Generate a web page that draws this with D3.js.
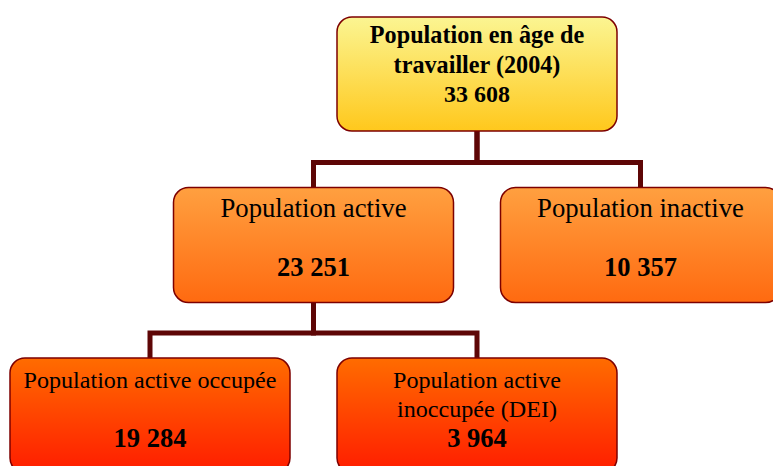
<!DOCTYPE html>
<html><head><meta charset="utf-8">
<script src="https://cdn.jsdelivr.net/npm/d3@7"></script>
<style>html,body{margin:0;padding:0;background:#fff;overflow:hidden}</style>
</head><body><svg id="c" width="773" height="466"></svg>
<script>
(function() {
// Data
const ids     = ["total", "active", "inactive", "occupee", "dei"];
const parents = [null, "total", "total", "active", "active"];
const labels  = [["Population en âge de", "travailler (2004)"], ["Population active"], ["Population inactive"], ["Population active occupée"], ["Population active", "inoccupée (DEI)"]];
const values  = [33608, 23251, 10357, 19284, 3964];

const rows = ids.map((id, i) => ({id, parent: parents[i], lines: labels[i], value: values[i]}));
const root = d3.stratify().id(d => d.id).parentId(d => d.parent)(rows);

const boxW = 280, boxH = 115, levelGap = 170.5;
d3.tree().nodeSize([327, levelGap]).separation(() => 1)(root);

const x0 = 477 - root.x, y0 = 17;
const fmt = d3.formatLocale({thousands: " ", grouping: [3], decimal: ",", currency: ["", ""]}).format(",d");

const svg = d3.select("#c");
const defs = svg.append("defs");
const grads = [
  ["g0", "#fbf592", "#ffc81c"],
  ["g1", "#ffa040", "#ff6a10"],
  ["g2", "#ff6c00", "#ff1c00"]
];
grads.forEach(([id, a, b]) => {
  const g = defs.append("linearGradient").attr("id", id).attr("x1", 0).attr("y1", 0).attr("x2", 0).attr("y2", 1);
  g.append("stop").attr("offset", "0%").attr("stop-color", a);
  g.append("stop").attr("offset", "100%").attr("stop-color", b);
});

const cx = d => x0 + d.x;
const ty = d => y0 + d.y;

// connectors
svg.append("g").selectAll("path").data(root.links()).join("path")
  .attr("fill", "none").attr("stroke", "#5e0606").attr("stroke-width", 5)
  .attr("stroke-linejoin", "miter")
  .attr("d", l => {
    const px = cx(l.source), py = ty(l.source) + boxH - 1;
    const qx = cx(l.target), qy = ty(l.target) + 1;
    const my = qy - 26;
    return `M${px},${py}V${my}H${qx}V${qy}`;
  });

// nodes
const node = svg.append("g").selectAll("g").data(root.descendants()).join("g")
  .attr("transform", d => `translate(${cx(d) - boxW / 2},${ty(d)})`);

node.append("rect")
  .attr("width", boxW).attr("height", d => d.depth === 0 ? 114 : boxH)
  .attr("rx", 15).attr("ry", 15)
  .attr("fill", d => `url(#g${d.depth})`)
  .attr("stroke", "#7d0000").attr("stroke-width", 1.5);

const fam = '"Liberation Serif","Times New Roman",Times,serif';
node.each(function(d) {
  const g = d3.select(this);
  const bold = d.depth === 0;
  const size = d.depth === 0 ? 24.2 : d.depth === 1 ? 26.7 : 24.1;
  const first = d.depth === 0 ? 26 : 29.5;
  const step = 29.5;
  d.data.lines.forEach((t, i) => {
    g.append("text").attr("x", boxW / 2).attr("y", first + i * step)
      .attr("text-anchor", "middle").attr("font-family", fam)
      .attr("font-size", size).attr("font-weight", bold ? "bold" : "normal")
      .attr("fill", "#000").text(t);
  });
  g.append("text").attr("x", boxW / 2).attr("y", d.depth === 0 ? 85 : 88.5)
    .attr("text-anchor", "middle").attr("font-family", fam)
    .attr("font-size", d.depth === 0 ? 24 : 26.5).attr("font-weight", "bold")
    .attr("fill", "#000").text(fmt(d.data.value));
});
})();
</script></body></html>
